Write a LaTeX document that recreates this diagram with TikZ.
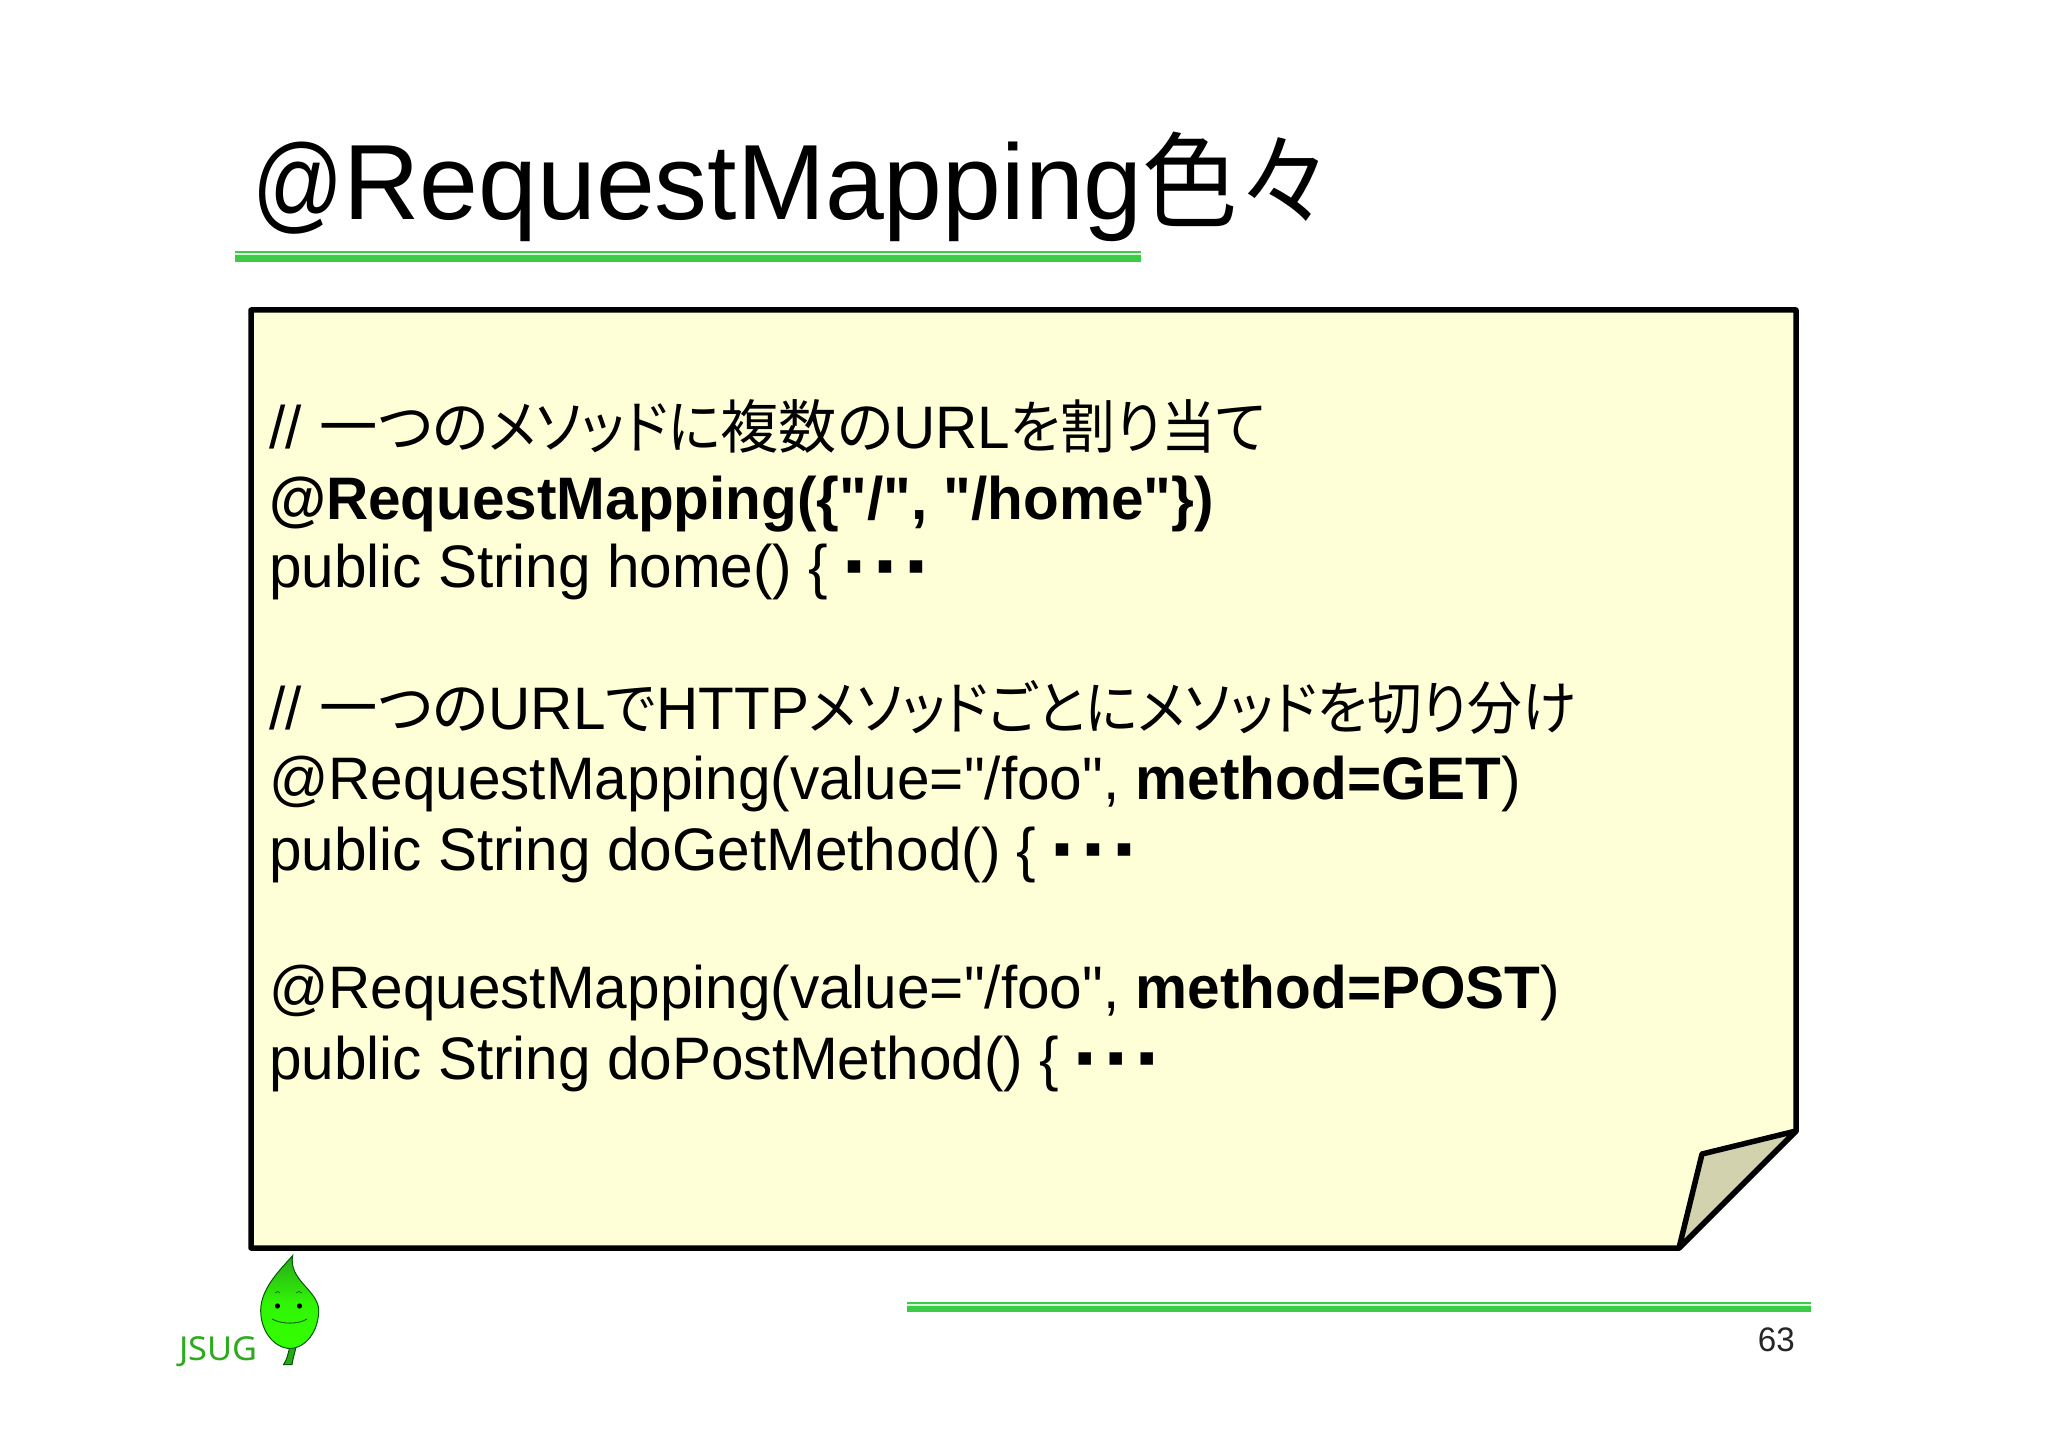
\documentclass[tikz,border=0pt]{standalone}
\usepackage{fontspec}
\setmainfont{Liberation Sans}[Ligatures=TeXOff,FakeStretch=0.975]
\newfontfamily\titlef{Liberation Sans}[Ligatures=TeXOff,FakeStretch=0.988]
\newfontfamily\titleat{Liberation Sans}[Ligatures=TeXOff,FakeStretch=0.84]
\newfontfamily\jpf{Noto Sans CJK JP}[Scale=0.97,RawFeature=+palt,FakeStretch=0.94]
\newfontfamily\jpw{Noto Sans CJK JP}[Scale=0.97,RawFeature=+palt,FakeStretch=1.0]
\newfontfamily\jptitle{Noto Sans CJK JP}[Scale=0.97,FakeStretch=0.92]
\newfontfamily\jsugf{Noto Sans}[FakeStretch=1.04]
\newfontfamily\symf{DejaVu Sans}
\newcommand{\J}[1]{{\jpf #1}}
\newcommand{\JW}[1]{{\jpw #1}}
\newcommand{\sqdot}{\makebox[31pt][l]{\raisebox{14pt}{\symf\fontsize{25}{25}\selectfont ▪}}}
\newcommand{\dotsjp}{\kern1pt\sqdot\sqdot\sqdot}
\definecolor{rulegreen}{HTML}{3CCB46}
\definecolor{notefill}{HTML}{FFFFD7}
\definecolor{foldfill}{HTML}{D2D2AE}
\definecolor{jsuggreen}{HTML}{2DAA1E}
\definecolor{leaftop}{HTML}{2AA81A}
\definecolor{leafmid}{HTML}{30F505}
\definecolor{leafbot}{HTML}{33FF00}
\tikzset{
  codeline/.style={anchor=base west,inner sep=0pt,outer sep=0pt,font=\fontsize{60}{60}\selectfont},
  notepen/.style={draw=black,line width=5.5pt,line join=round},
}
\begin{document}
\begin{tikzpicture}[x=1pt,y=-1pt]
\useasboundingbox (0,0) rectangle (2048,1447);
\fill[white] (0,0) rectangle (2048,1447);
% title
\node[anchor=base west,inner sep=0pt,font=\fontsize{107}{107}\selectfont] (title) at (252,220) {{\titleat @}{\titlef RequestMapping}{\jptitle 色々}};
\fill[rulegreen] (235,251) rectangle (1141,262);
\fill[white!80!rulegreen] (235,253.3) rectangle (1141,255.5);
% note
\filldraw[notepen,fill=notefill] (251,310) -- (1796,310) -- (1796,1131) -- (1679,1248) -- (251,1248) -- cycle;
\filldraw[notepen,fill=foldfill] (1796,1131) -- (1702,1154) -- (1679,1248) -- cycle;
% code
\node[codeline] (l1) at (269,448) {// \kern2pt\JW{一つの}\J{メソッドに}\JW{複数の}URL{\J{を割り当て}}};
\node[codeline] (l2) at (269,519) {\bfseries @RequestMapping(\{"/", "/home"\})};
\node[codeline] (l3) at (269,587) {public String home() \{ \dotsjp};
\node[codeline] (l5) at (269,729) {// \kern2pt\JW{一つの}URL\J{で}HTTP\J{メソッドごとにメソッドを切り分け}};
\node[codeline] (l6) at (269,799) {@RequestMapping(value="/foo", \textbf{method=GET})};
\node[codeline] (l7) at (269,870) {public String doGetMethod() \{ \dotsjp};
\node[codeline] (l9) at (269,1008) {@RequestMapping(value="/foo", \textbf{method=POST})};
\node[codeline] (l10) at (269,1079) {public String doPostMethod() \{ \dotsjp};
% footer
\fill[rulegreen] (907,1302) rectangle (1811,1312);
\fill[white!80!rulegreen] (907,1304) rectangle (1811,1306.3);
\node[anchor=base east,inner sep=0pt,font=\fontsize{34}{34}\selectfont,text=black!85] (page) at (1795,1351) {63};
\node[anchor=base west,inner sep=0pt,font=\jsugf\fontsize{33}{33}\selectfont,text=jsuggreen] (jsug) at (179,1360) {JSUG};
% leaf
\fill[draw=green!35!black,line width=1pt,fill=leaftop] (290,1346) .. controls (288,1354) and (287,1360) .. (283.5,1364.5) -- (292,1364.5) .. controls (293,1358) and (295,1352) .. (296,1347) -- cycle;
\draw[draw=green!35!black,line width=1pt,top color=leaftop,bottom color=leafbot,middle color=leafmid]
  (292.7,1255.5) .. controls (283,1267) and (261,1287) .. (260.7,1310)
  .. controls (260.5,1331) and (274,1348) .. (290,1348.5)
  .. controls (306,1348) and (318.7,1331) .. (318.7,1310)
  .. controls (318,1290) and (288,1280) .. (292.7,1255.5) -- cycle;
\fill (277.5,1306) circle (2.6pt) (299.5,1306) circle (2.6pt);
\draw[line width=.8pt,green!30!black] (272,1319) .. controls (282,1324.5) and (298,1324.5) .. (307,1319);
\draw[line width=.6pt,green!30!black] (275,1293) .. controls (277,1291) and (279,1291) .. (280,1293);
\draw[line width=.6pt,green!30!black] (296,1293) .. controls (298,1291) and (300,1291) .. (302,1293);
\end{tikzpicture}
\end{document}
